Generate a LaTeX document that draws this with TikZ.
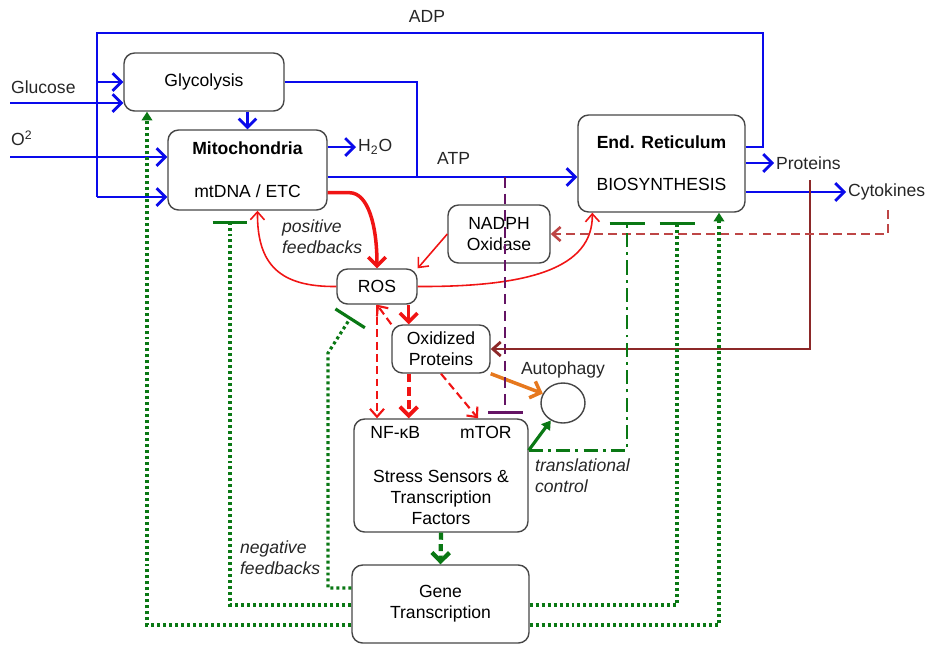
\documentclass[tikz,border=0pt]{standalone}
\usepackage{fontspec}
\setmainfont{Liberation Sans}
\usetikzlibrary{arrows.meta,calc,positioning,shapes.geometric}
\definecolor{pathblue}{RGB}{10,10,235}
\definecolor{rosred}{RGB}{240,20,20}
\definecolor{fbgreen}{RGB}{10,120,20}
\definecolor{maroonline}{RGB}{140,40,40}
\definecolor{cytobrown}{RGB}{190,70,70}
\definecolor{mtorpurple}{RGB}{100,20,100}
\definecolor{autoorange}{RGB}{230,120,30}
\definecolor{boxgray}{RGB}{70,70,70}
\tikzset{
  cellbox/.style={draw=boxgray, line width=0.8pt, rounded corners=6pt, align=center, inner sep=2pt},
  lbl/.style={inner sep=1pt, text=black!85},
  fblbl/.style={lbl, anchor=west, align=left, font=\fontsize{10}{12}\selectfont\itshape},
  blueline/.style={pathblue, line width=1.6pt},
  bluearrow/.style={blueline, -{Straight Barb[length=5pt,width=10pt]}},
  redthick/.style={rosred, line width=2pt, -{Straight Barb[length=5pt,width=10pt]}},
  redthin/.style={rosred, line width=0.9pt, -{Straight Barb[length=4.5pt,width=8pt]}},
  reddash/.style={rosred, line width=1.2pt, dash pattern=on 4.5pt off 2.5pt, -{Straight Barb[length=4.5pt,width=8pt]}},
  reddashthick/.style={rosred, line width=2.2pt, dash pattern=on 5pt off 2.5pt, -{Straight Barb[length=5pt,width=10pt]}},
  orangearrow/.style={autoorange, line width=2pt, -{Straight Barb[length=5pt,width=10pt]}},
  purpleinh/.style={mtorpurple, line width=1.5pt, dash pattern=on 6pt off 3.5pt, -{Bar[width=0.7cm, line width=1.7pt]}},
  maroonarrow/.style={maroonline, line width=1.6pt, -{Straight Barb[length=4.5pt,width=8pt]}},
  cytodash/.style={cytobrown, line width=1.5pt, dash pattern=on 5pt off 3pt, -{Straight Barb[length=4.5pt,width=8pt]}},
  greenarrow/.style={fbgreen, line width=1.8pt, -{Triangle[length=5pt,width=6pt]}},
  greendash/.style={fbgreen, line width=2.4pt, dash pattern=on 4pt off 2.5pt, -{Straight Barb[length=5pt,width=10pt]}},
  greendashdot/.style={fbgreen, line width=1.6pt, dash pattern=on 8pt off 3pt on 1.6pt off 3pt, -{Bar[width=0.7cm, line width=1.8pt]}},
  greendot/.style={fbgreen, line width=1.8pt, dash pattern=on 1.7pt off 1.7pt},
  greendotarrow/.style={greendot, -{Triangle[length=5pt,width=6pt]}},
  greendotinh/.style={greendot, -{Bar[width=0.7cm, line width=1.8pt]}}
}
\begin{document}
\begin{tikzpicture}[x=0.02cm, y=-0.02cm, font=\fontsize{10}{12}\selectfont]
    \useasboundingbox (0,0) rectangle (926,647);
    \node[cellbox, minimum width=3.2cm, minimum height=1.16cm] (gly) at (204,82) {Glycolysis};
    \node[cellbox, minimum width=3.18cm, minimum height=1.6cm] (mito) at (247.5,170) {\textbf{Mitochondria}\\[0.44cm]mtDNA / ETC};
    \node[cellbox, minimum width=3.34cm, minimum height=1.94cm] (er) at (661.5,163.5) {\textbf{End. Reticulum}\\[0.42cm]BIOSYNTHESIS};
    \node[cellbox, minimum width=2.04cm, minimum height=1.16cm] (nadph) at (499,234) {NADPH\\Oxidase};
    \node[cellbox, minimum width=1.6cm, minimum height=0.7cm] (ros) at (377,286.5) {ROS};
    \node[cellbox, minimum width=1.96cm, minimum height=0.96cm] (oxp) at (441,349) {Oxidized\\Proteins};
    \node[cellbox, minimum width=3.48cm, minimum height=2.26cm] (ss) at (441,475.5) {NF-κB\hspace{0.8cm}mTOR\\[0.44cm]Stress Sensors \&\\Transcription\\Factors};
    \node[cellbox, minimum width=3.54cm, minimum height=1.56cm] (gene) at (440.5,604) {Gene\\Transcription};
    \node[draw=boxgray, line width=0.8pt, ellipse, minimum width=0.88cm, minimum height=0.8cm] (auto) at (563,403) {};

    \node[lbl, anchor=west] (glucose) at (9,87) {Glucose};
    \node[lbl, anchor=west] (otwo) at (9,138) {O\textsuperscript{2}};
    \node[lbl] (adp) at (427,16) {ADP};
    \node[lbl, anchor=west] (h2o) at (356,147) {H\textsubscript{2}O};
    \node[lbl, anchor=west] (atp) at (435,158) {ATP};
    \node[lbl, anchor=west] (prot) at (774,163) {Proteins};
    \node[lbl, anchor=west] (cyto) at (846,192) {Cytokines};
    \node[lbl] (autolbl) at (563,370) {Autophagy};
    \node[fblbl] (posfb) at (280,236.5) {positive\\feedbacks};
    \node[fblbl] (negfb) at (238,558) {negative\\feedbacks};
    \node[fblbl] (transl) at (533,476) {translational\\control};

    \coordinate (glu) at (10,103);
    \coordinate (otwoin) at (10,157);
    \coordinate (adpE) at (763,147);
    \coordinate (adpR) at (763,33);
    \coordinate (adpL) at (97,33);
    \coordinate (adpG) at (97,82);
    \coordinate (adpM) at (97,197);
    \coordinate (atpK) at (417,82);
    \coordinate (atpJ) at (417,177);
    \draw[bluearrow] (glu) -- (glu -| gly.west);
    \draw[bluearrow] (otwoin) -- (otwoin -| mito.west);
    \draw[blueline] (adpE -| er.east) -- (adpE) -- (adpR) -- (adpL) -- (adpM);
    \draw[bluearrow] (adpG) -- (adpG -| gly.west);
    \draw[bluearrow] (adpM) -- (adpM -| mito.west);
    \draw[blueline] (gly.east) -- (atpK) -- (atpJ);
    \draw[bluearrow] (atpJ -| mito.east) -- (atpJ -| er.west);
    \draw[bluearrow] (gly.south -| mito.north) -- (mito.north);
    \draw[bluearrow] (h2o.west -| mito.east) -- (h2o.west);
    \draw[bluearrow] (prot.west -| er.east) -- (prot.west);
    \draw[bluearrow] (cyto.west -| er.east) -- (cyto.west);

    \coordinate (mitoout) at ($(mito.south east)+(0,-18)$);
    \coordinate (rosin) at ($(ros.south east)+(-9,0)$);
    \draw[redthick] (mitoout) -- ++(22,0) .. controls (368,193) and (377,225) .. (ros.north);
    \draw[redthin] (ros.west) .. controls (280,287) and (257,265) .. ($(mito.south)+(10,0)$);
    \draw[redthin] (ros.east) .. controls (530,287) and (593,268) .. ($(er.south west)+(15,0)$);
    \draw[redthin] (nadph.west) -- (ros.north east);
    \draw[redthick] (rosin) -- (rosin |- oxp.north);
    \draw[reddash] (ros.south) -- (ros.south |- ss.north);
    \draw[reddash] (oxp.north west) -- (ros.south);
    \draw[reddashthick] (rosin |- oxp.south) -- (rosin |- ss.north);
    \draw[reddash] (oxp.south) -- ($(ss.north)+(37,0)$);
    \draw[orangearrow] (oxp.south east) -- (auto.155);

    \coordinate (mtorT) at (505,414);
    \draw[purpleinh] (atpJ -| mtorT) -- (mtorT);
    \coordinate (protdown) at (810,180);
    \draw[maroonarrow] (protdown) |- (oxp.east);
    \coordinate (cytodown) at (888,210);
    \draw[cytodash] (cytodown) |- (nadph.east);

    \coordinate (tcl) at ($(ss.north east)+(0,32)$);
    \coordinate (ertl) at (627,222);
    \draw[greendash] (ss.south) -- (gene.north);
    \draw[greenarrow] (tcl) -- (auto.235);
    \draw[greendashdot] (tcl) -| (ertl);
    \coordinate (nf1) at (147,625);
    \coordinate (nf2) at (230,605);
    \coordinate (nf2t) at (230,221);
    \coordinate (nf3) at (328,588);
    \coordinate (nf3k) at (328,353);
    \coordinate (nf3t) at (351,317);
    \coordinate (nf4) at (677,605);
    \coordinate (nf4t) at (677,222);
    \coordinate (nf5) at (719,625);
    \draw[greendotarrow] (nf1 -| gene.west) -- (nf1) -- (nf1 |- gly.south);
    \draw[greendotinh] (nf2 -| gene.west) -- (nf2) -- (nf2t);
    \draw[greendotinh] (nf3 -| gene.west) -- (nf3) -- (nf3k) -- (nf3t);
    \draw[greendotinh] (nf4 -| gene.east) -- (nf4) -- (nf4t);
    \draw[greendotarrow] (nf5 -| gene.east) -- (nf5) -- (nf5 |- er.south);
\end{tikzpicture}
\end{document}
